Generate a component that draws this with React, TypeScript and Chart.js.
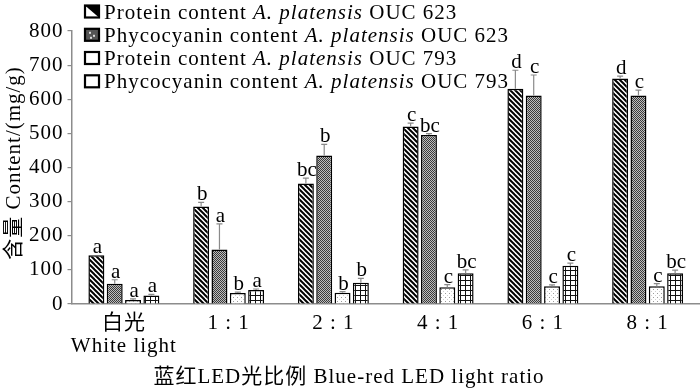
import React, { useEffect, useRef } from "react";
import { Chart, registerables } from "chart.js";
Chart.register(...registerables);

const categories: (string | string[])[] = [["白光", "White light"], "1 : 1", "2 : 1", "4 : 1", "6 : 1", "8 : 1"];
const yTicks = [0, 100, 200, 300, 400, 500, 600, 700, 800];

const protein623 = [143, 286, 353, 520, 631, 661];
const protein623Err = [0, 12, 16, 10, 54, 7];
const phyco623 = [59, 160, 435, 495, 611, 611];
const phyco623Err = [12, 75, 33, 4, 60, 16];
const protein793 = [12, 32, 33, 49, 52, 52];
const protein793Err = [3, 3, 3, 8, 4, 8];
const phyco793 = [25, 41, 62, 90, 112, 90];
const phyco793Err = [3, 3, 13, 10, 8, 9];

const protein623Letters = ["a", "b", "bc", "c", "d", "d"];
const phyco623Letters = ["a", "a", "b", "bc", "c", "c"];
const protein793Letters = ["a", "b", "b", "c", "c", "c"];
const phyco793Letters = ["a", "a", "b", "bc", "c", "bc"];

const legendLabels = [
  ["Protein content ", "A. platensis", " OUC 623"],
  ["Phycocyanin content ", "A. platensis", " OUC 623"],
  ["Protein content ", "A. platensis", " OUC 793"],
  ["Phycocyanin content ", "A. platensis", " OUC 793"],
];

const xTitle = "蓝红LED光比例 Blue-red LED light ratio";
const yTitle = "含量 Content/(mg/g)";

const FONT = "'Liberation Serif', 'Noto Sans CJK SC', serif";

function makeTile(size: number, draw: (c: CanvasRenderingContext2D) => void) {
  const cv = document.createElement("canvas");
  cv.width = size;
  cv.height = size;
  const c = cv.getContext("2d")!;
  draw(c);
  return cv;
}

export default function App() {
  const ref = useRef<HTMLCanvasElement>(null);
  useEffect(() => {
    document.body.style.margin = "0";
    const canvas = ref.current!;
    const ctx0 = canvas.getContext("2d")!;

    const stripeTile = makeTile(5, (c) => {
      c.fillStyle = "#fff";
      c.fillRect(0, 0, 5, 5);
      c.strokeStyle = "#000";
      c.lineWidth = 2;
      for (const o of [-5, 0, 5]) {
        c.beginPath();
        c.moveTo(o - 1, -1);
        c.lineTo(o + 6, 6);
        c.stroke();
      }
    });
    const checkTile = makeTile(2, (c) => {
      c.fillStyle = "#bdbdbd";
      c.fillRect(0, 0, 2, 2);
      c.fillStyle = "#3a3a3a";
      c.fillRect(0, 0, 1, 1);
      c.fillRect(1, 1, 1, 1);
    });
    const dotTile = makeTile(4, (c) => {
      c.fillStyle = "#fff";
      c.fillRect(0, 0, 4, 4);
      c.fillStyle = "#9a9a9a";
      c.fillRect(1, 1, 1, 1);
      c.fillStyle = "#d0d0d0";
      c.fillRect(3, 3, 1, 1);
    });
    const gridTile = makeTile(5, (c) => {
      c.fillStyle = "#fff";
      c.fillRect(0, 0, 5, 5);
      c.fillStyle = "#111";
      c.fillRect(0, 0, 5, 1);
      c.fillRect(0, 0, 1, 5);
    });
    const pStripe = ctx0.createPattern(stripeTile, "repeat")!;
    const pCheck = ctx0.createPattern(checkTile, "repeat")!;
    const pDot = ctx0.createPattern(dotTile, "repeat")!;
    const pGrid = ctx0.createPattern(gridTile, "repeat")!;

    const errs = [protein623Err, phyco623Err, protein793Err, phyco793Err];
    const letters = [protein623Letters, phyco623Letters, protein793Letters, phyco793Letters];

    const overlay = {
      id: "overlay",
      beforeDraw(chart: any) {
        chart.ctx.letterSpacing = "1px";
      },
      afterDatasetsDraw(chart: any) {
        const ctx = chart.ctx as CanvasRenderingContext2D;
        const y = chart.scales.y;
        ctx.save();
        chart.data.datasets.forEach((ds: any, di: number) => {
          const meta = chart.getDatasetMeta(di);
          meta.data.forEach((bar: any, i: number) => {
            const v = ds.data[i];
            const e = errs[di][i];
            const yTop = y.getPixelForValue(v);
            const yErr = y.getPixelForValue(v + e);
            if (e > 0) {
              ctx.strokeStyle = "#8a8a8a";
              ctx.lineWidth = 1.2;
              ctx.beginPath();
              ctx.moveTo(bar.x, yTop);
              ctx.lineTo(bar.x, yErr);
              ctx.moveTo(bar.x - 3, yErr);
              ctx.lineTo(bar.x + 3, yErr);
              ctx.stroke();
            }
            ctx.fillStyle = "#000";
            ctx.font = `21px ${FONT}`;
            (ctx as any).letterSpacing = "0px";
            ctx.textAlign = "center";
            ctx.textBaseline = "alphabetic";
            ctx.fillText(letters[di][i], bar.x + 1, Math.min(yErr, yTop) - 2);
          });
        });
        ctx.restore();
      },
      afterDraw(chart: any) {
        const ctx = chart.ctx as CanvasRenderingContext2D;
        ctx.save();
        (ctx as any).letterSpacing = "1px";
        ctx.fillStyle = "#000";
        const baselines = [18.5, 41.8, 65, 88.3];
        legendLabels.forEach((parts, i) => {
          const bx = 85, by = baselines[i] - 13, bw = 14, bh = 12;
          ctx.fillStyle = "#fff";
          ctx.fillRect(bx, by, bw, bh);
          if (i === 0) {
            ctx.fillStyle = "#000";
            ctx.beginPath();
            ctx.moveTo(bx, by);
            ctx.lineTo(bx + bw, by);
            ctx.lineTo(bx + bw, by + bh);
            ctx.closePath();
            ctx.fill();
          } else if (i === 1) {
            ctx.fillStyle = "#555";
            ctx.fillRect(bx, by, bw, bh);
            ctx.fillStyle = "#ddd";
            ctx.fillRect(bx + 4, by + 3, 2, 2);
            ctx.fillRect(bx + 8, by + 6, 2, 2);
            ctx.fillRect(bx + 5, by + 8, 2, 2);
          }
          ctx.strokeStyle = "#000";
          ctx.lineWidth = 2.2;
          ctx.strokeRect(bx, by, bw, bh);
          ctx.fillStyle = "#000";
          ctx.textAlign = "left";
          ctx.textBaseline = "alphabetic";
          let x = 104;
          parts.forEach((t, k) => {
            ctx.font = k === 1 ? `italic 21px ${FONT}` : `21px ${FONT}`;
            ctx.fillText(t, x, baselines[i]);
            x += ctx.measureText(t).width;
          });
        });
        ctx.font = `21px ${FONT}`;
        ctx.textAlign = "center";
        ctx.textBaseline = "middle";
        ctx.fillText(xTitle, 349, 377);
        ctx.translate(14, 163);
        ctx.rotate(-Math.PI / 2);
        ctx.fillText(yTitle, 0, 0);
        ctx.restore();
        (ctx as any).letterSpacing = "0px";
      },
    };

    const chart = new Chart(canvas, {
      type: "bar",
      data: {
        labels: categories as any,
        datasets: [
          { label: "Protein content A. platensis OUC 623", data: protein623, backgroundColor: pStripe as any },
          { label: "Phycocyanin content A. platensis OUC 623", data: phyco623, backgroundColor: pCheck as any },
          { label: "Protein content A. platensis OUC 793", data: protein793, backgroundColor: pDot as any },
          { label: "Phycocyanin content A. platensis OUC 793", data: phyco793, backgroundColor: pGrid as any },
        ].map((d) => ({
          ...d,
          borderColor: "#000",
          borderWidth: 1.5,
          categoryPercentage: 0.7,
          barPercentage: 0.87,
        })),
      },
      options: {
        responsive: false,
        animation: false,
        devicePixelRatio: 1,
        layout: { padding: { top: 31, right: 0, left: 0, bottom: 0 } },
        plugins: { legend: { display: false }, tooltip: { enabled: false } },
        scales: {
          x: {
            grid: { display: false, drawTicks: false },
            border: { display: true, color: "#8c8c8c", width: 1.5 },
            ticks: {
              color: "#000",
              font: { family: FONT, size: 21, lineHeight: 1.1 },
              padding: 7.5,
              maxRotation: 0,
              autoSkip: false,
            },
            afterFit: (s: any) => {
              s.height = 84;
            },
          },
          y: {
            min: 0,
            max: 800,
            afterBuildTicks: (s: any) => {
              s.ticks = yTicks.map((v) => ({ value: v }));
            },
            grid: { drawOnChartArea: false, drawTicks: true, tickLength: 4, color: "#8c8c8c", lineWidth: 1.2 },
            border: { display: true, color: "#8c8c8c", width: 1.5 },
            ticks: {
              color: "#000",
              font: { family: FONT, size: 21 },
              padding: 4,
            },
            afterFit: (s: any) => {
              s.width = 71.5;
            },
          },
        },
      },
      plugins: [overlay],
    });
    return () => chart.destroy();
  }, []);
  return (
    <div style={{ width: 700, height: 388 }}>
      <canvas ref={ref} width={700} height={388} style={{ display: "block" }} />
    </div>
  );
}
